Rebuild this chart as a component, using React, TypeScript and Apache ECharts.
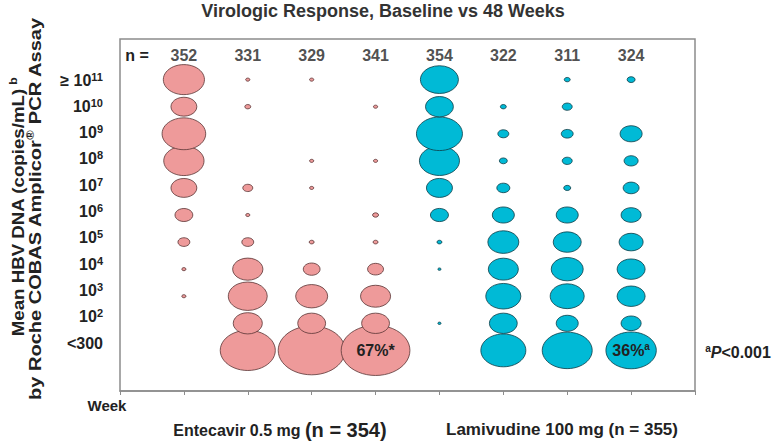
import React, { useEffect, useRef } from "react";
import * as echarts from "echarts";

// ---- data ----
// rows from bottom (index 0) to top (index 10)
const yTickBase = ["<300", "10", "10", "10", "10", "10", "10", "10", "10", "10", "\u2265 10"];
const yTickExp = ["", "2", "3", "4", "5", "6", "7", "8", "9", "10", "11"];

// number of patients per column
const nCounts = [352, 331, 329, 341, 354, 322, 311, 324];

// % of patients per HBV DNA row (<300, 10^2 ... >=10^11), one array per column
const etvCol1 = [0, 0, 0.25, 0.25, 2, 4.5, 9.5, 23, 27, 9.5, 24];
const etvCol2 = [43, 12, 21.5, 13, 2, 0.25, 1.4, 0, 0, 0.5, 0.25];
const etvCol3 = [63.5, 11, 14.5, 4, 0.35, 0, 0.25, 0.25, 0, 0, 0.25];
const etvCol4 = [67, 11, 12.8, 3.6, 0.35, 0.5, 0, 0.25, 0, 0.25, 0];
const lamCol1 = [0, 0.15, 0, 0.15, 0.35, 4.6, 9.6, 22.7, 30, 11, 20.5];
const lamCol2 = [28.7, 11, 17.4, 12.8, 13.6, 6.9, 2.4, 0.9, 1.7, 0.5, 0];
const lamCol3 = [35.4, 6.9, 16.4, 14.5, 11.1, 6.9, 0.7, 1.4, 2.0, 1.4, 0.5];
const lamCol4 = [36, 5.7, 11.1, 11.1, 8.2, 5.7, 3.6, 2.8, 6.9, 0, 0.9];

const entecavirCols = [etvCol1, etvCol2, etvCol3, etvCol4];
const lamivudineCols = [lamCol1, lamCol2, lamCol3, lamCol4];

const etvAnnotation = { col: 3, row: 0, text: "{t|67%*}" };
const lamAnnotation = { col: 3, row: 0, text: "{t|36%}{s|a}" };

const titleText = "Virologic Response, Baseline vs 48 Weeks";
const yTitle1 = "{t|Mean HBV DNA (copies/mL)} {s|b}";
const yTitle2 = "{t|by Roche COBAS Amplicor}{s|\u00AE}{t| PCR Assay}";
const etvGroupLabel = "{a|Entecavir 0.5 mg }{b|(n = 354)}";
const lamGroupLabel = "{a|Lamivudine 100 mg (n = 355)}";
const pValueLabel = "{s|a}{i|P}{t|<0.001}";

// ---- styles ----
const FONT = "'Liberation Sans', Arial, sans-serif";
const TXT = "#222";
const PINK = "#EE9A9A";
const PINK_BORDER = "#5a3535";
const BLUE = "#00BAD6";
const BLUE_BORDER = "#0d3e48";
const BOX = "#8c8c8c";
const BUBBLE_K = 8.4;
const ASPECT = 0.73;
const N_ROW = 10.89;

function buildData(cols: number[][], xStart: number, ann: { col: number; row: number; text: string }) {
  const out: any[] = [];
  cols.forEach((col, ci) => {
    col.forEach((v, r) => {
      if (v <= 0) return;
      const item: any = { value: [xStart + ci, r, v] };
      if (ann.col === ci && ann.row === r) {
        item.label = {
          show: true,
          position: "inside",
          formatter: ann.text,
          rich: {
            t: { fontSize: 16, fontWeight: "bold", color: TXT, fontFamily: FONT },
            s: { fontSize: 10, fontWeight: "bold", color: TXT, fontFamily: FONT, verticalAlign: "top", padding: [0, 0, 8, 0] },
          },
        };
      }
      out.push(item);
    });
  });
  return out;
}

const yTitleRich = {
  t: { fontSize: 17, fontWeight: "bold", fill: TXT, fontFamily: FONT, lineHeight: 20 },
  s: { fontSize: 11, fontWeight: "bold", fill: TXT, fontFamily: FONT, verticalAlign: "top", lineHeight: 12 },
};

export default function App() {
  const ref = useRef<HTMLDivElement>(null);
  useEffect(() => {
    if (!ref.current) return;
    const chart = echarts.init(ref.current, null, { renderer: "svg" });
    const symbolSize = (val: number[]) => {
      const w = BUBBLE_K * Math.sqrt(val[2]);
      return [w, w * ASPECT];
    };
    const option: any = {
      animation: false,
      backgroundColor: "#fff",
      textStyle: { fontFamily: FONT },
      grid: {
        left: 120,
        top: 39,
        right: 79,
        bottom: 51,
        show: true,
        borderColor: BOX,
        borderWidth: 1.5,
      },
      xAxis: {
        type: "value",
        min: 0,
        max: 9,
        interval: 1,
        axisLine: { show: true, onZero: false, lineStyle: { color: BOX, width: 1.5 } },
        axisTick: { show: true, length: 4, lineStyle: { color: BOX } },
        axisLabel: { show: false },
        splitLine: { show: false },
      },
      yAxis: [
        { type: "value", min: -1.5, max: 11.5, show: false },
        {
          type: "value",
          min: -1.825,
          max: 11.56,
          position: "left",
          axisLine: { show: false },
          axisTick: { show: false },
          splitLine: { show: false },
          axisLabel: {
            customValues: yTickBase.map((_, i) => i),
            margin: 17,
            formatter: (v: number) => {
              const i = Math.round(v);
              return "{b|" + yTickBase[i] + "}" + (yTickExp[i] ? "{s|" + yTickExp[i] + "}" : "");
            },
            rich: {
              b: { fontSize: 16, fontWeight: "bold", color: TXT, fontFamily: FONT, lineHeight: 18 },
              s: { fontSize: 11, fontWeight: "bold", color: TXT, fontFamily: FONT, verticalAlign: "top", lineHeight: 12 },
            },
          },
        },
      ],
      series: [
        {
          type: "scatter",
          yAxisIndex: 0,
          symbol: "circle",
          symbolSize,
          itemStyle: { color: PINK, borderColor: PINK_BORDER, borderWidth: 0.8, opacity: 1 },
          data: buildData(entecavirCols, 1, etvAnnotation),
        },
        {
          type: "scatter",
          yAxisIndex: 0,
          symbol: "circle",
          symbolSize,
          itemStyle: { color: BLUE, borderColor: BLUE_BORDER, borderWidth: 0.8, opacity: 1 },
          data: buildData(lamivudineCols, 5, lamAnnotation),
        },
        {
          type: "scatter",
          yAxisIndex: 0,
          symbolSize: 1,
          itemStyle: { color: "transparent" },
          label: {
            show: true,
            position: "inside",
            formatter: (p: any) => String(p.value[2]),
            fontSize: 16,
            fontWeight: "bold",
            color: TXT,
            fontFamily: FONT,
          },
          data: nCounts.map((n, i) => [i + 1, N_ROW, n]),
        },
      ],
      graphic: [
        {
          type: "text",
          x: 383,
          y: 11,
          style: { text: titleText, font: `bold 18px ${FONT}`, fill: "#333", align: "center", verticalAlign: "middle" },
        },
        {
          type: "text",
          x: 137,
          y: 55,
          style: { text: "n =", font: `bold 16px ${FONT}`, fill: TXT, align: "center", verticalAlign: "middle" },
        },
        {
          type: "text",
          x: 18,
          y: 207,
          rotation: Math.PI / 2,
          scaleX: 1.1,
          style: { text: yTitle1, align: "center", verticalAlign: "middle", rich: yTitleRich },
        },
        {
          type: "text",
          x: 35,
          y: 209,
          rotation: Math.PI / 2,
          scaleX: 1.18,
          style: { text: yTitle2, align: "center", verticalAlign: "middle", rich: yTitleRich },
        },
        {
          type: "text",
          x: 107,
          y: 405,
          style: { text: "Week", font: `bold 15px ${FONT}`, fill: TXT, align: "center", verticalAlign: "middle" },
        },
        {
          type: "text",
          x: 280,
          y: 430,
          style: {
            text: etvGroupLabel,
            align: "center",
            verticalAlign: "middle",
            rich: {
              a: { fontSize: 16, fontWeight: "bold", fill: TXT, fontFamily: FONT },
              b: { fontSize: 20, fontWeight: "bold", fill: TXT, fontFamily: FONT },
            },
          },
        },
        {
          type: "text",
          x: 562,
          y: 429,
          style: {
            text: lamGroupLabel,
            align: "center",
            verticalAlign: "middle",
            rich: { a: { fontSize: 17, fontWeight: "bold", fill: TXT, fontFamily: FONT } },
          },
        },
        {
          type: "text",
          x: 738,
          y: 352,
          style: {
            text: pValueLabel,
            align: "center",
            verticalAlign: "middle",
            rich: {
              s: { fontSize: 10, fontWeight: "bold", fill: TXT, fontFamily: FONT, verticalAlign: "top", lineHeight: 12 },
              i: { fontSize: 16, fontWeight: "bold", fontStyle: "italic", fill: TXT, fontFamily: FONT, lineHeight: 18 },
              t: { fontSize: 16, fontWeight: "bold", fill: TXT, fontFamily: FONT, lineHeight: 18 },
            },
          },
        },
      ],
    };
    chart.setOption(option);
    return () => chart.dispose();
  }, []);
  return (
    <div
      ref={ref}
      style={{ position: "fixed", left: 0, top: 0, width: 774, height: 442, background: "#fff" }}
    />
  );
}
